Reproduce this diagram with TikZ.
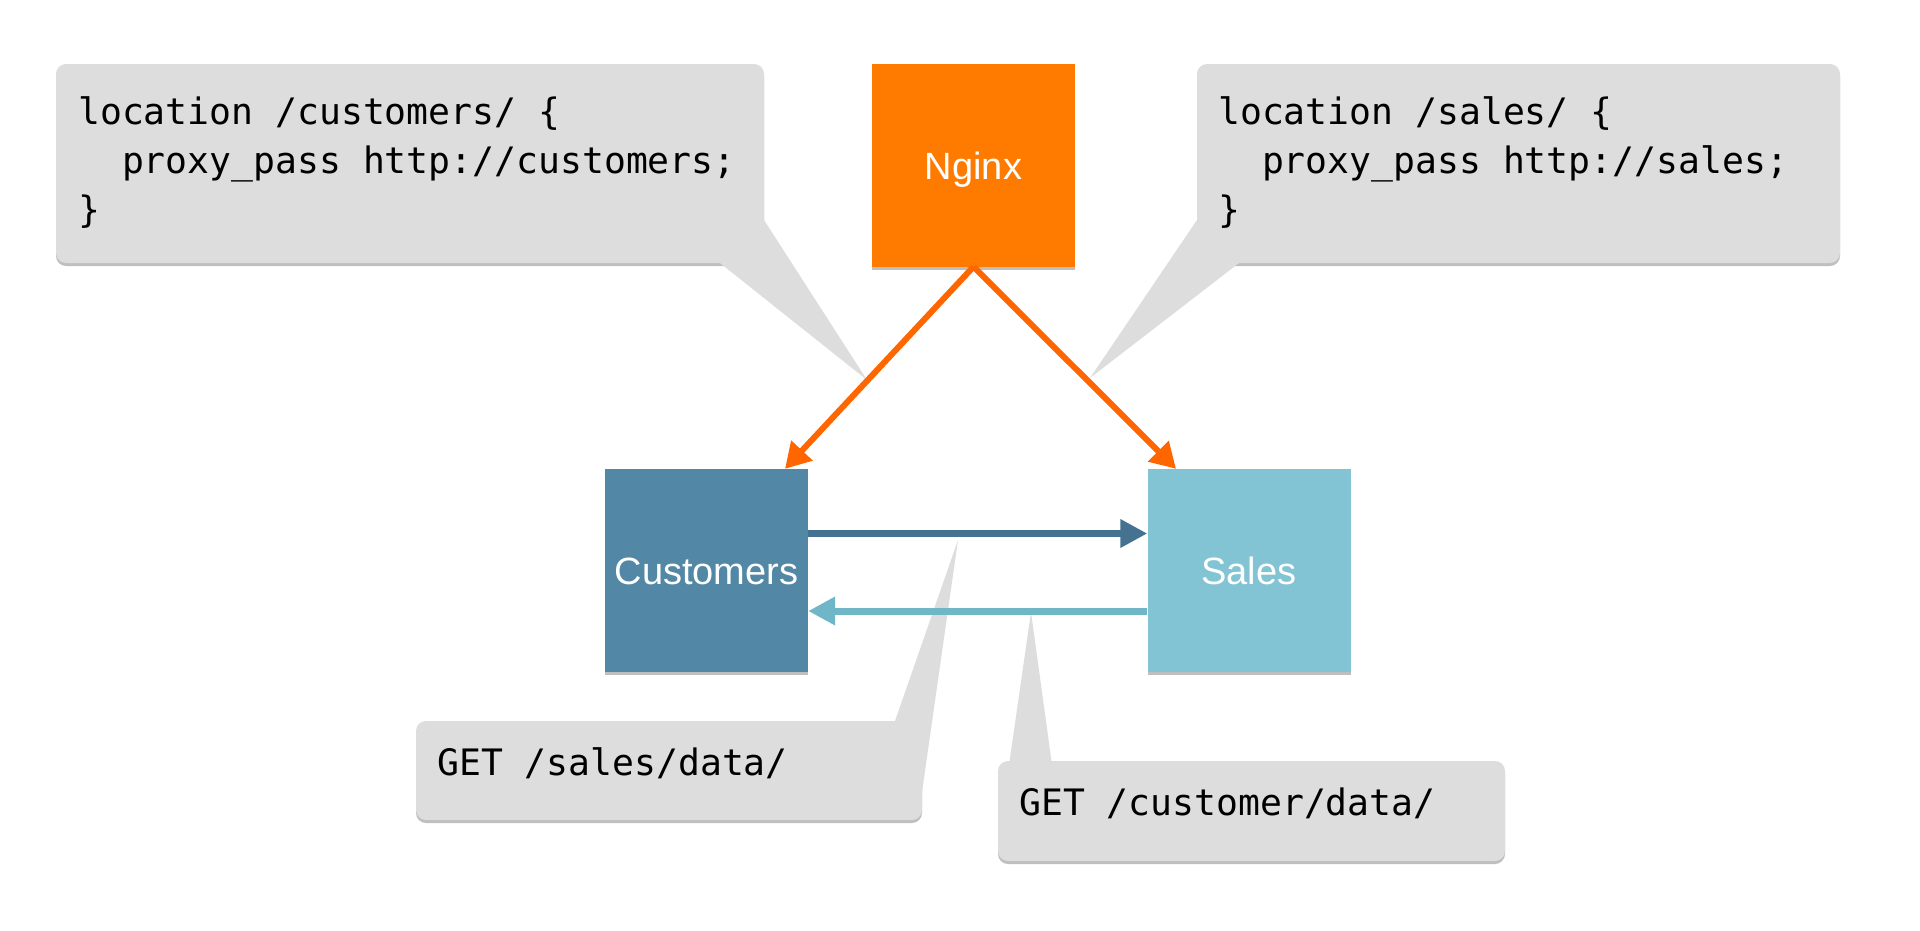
\documentclass[tikz,border=0pt]{standalone}
\usepackage{fontspec}
\setmainfont{Liberation Sans}
\newfontfamily\codefont{DejaVu Sans Mono}
\usetikzlibrary{arrows.meta,shadows}
\pgfdeclarelayer{bg}
\pgfsetlayers{bg,main}
\definecolor{calloutgray}{RGB}{221,221,221}
\definecolor{nginxorange}{RGB}{255,123,0}
\definecolor{arroworange}{RGB}{255,102,0}
\definecolor{custblue}{RGB}{83,135,166}
\definecolor{salesblue}{RGB}{130,196,211}
\definecolor{darkarrow}{RGB}{69,114,145}
\definecolor{lightarrow}{RGB}{111,182,198}
\begin{document}
\begin{tikzpicture}[x=1pt,y=-1pt,
  svcbox/.style={rectangle, minimum width=203pt, minimum height=203pt, inner sep=0pt,
    text=white, font=\fontsize{38}{38}\selectfont, text height=28pt, text depth=0pt,
    drop shadow={shadow xshift=0pt, shadow yshift=-3pt, opacity=0.25, fill=black}},
  callout/.style={rectangle, rounded corners=10pt, fill=calloutgray, inner sep=0pt,
    drop shadow={shadow xshift=0pt, shadow yshift=-3pt, opacity=0.25, fill=black}},
  tailfill/.style={fill=calloutgray},
  tailshadow/.style={fill=black, opacity=0.25, yshift=-3pt},
  code/.style={anchor=base west, inner sep=0pt, font=\codefont\fontsize{36.4}{36.4}\selectfont},
  orangearrow/.style={draw=arroworange, line width=6pt, -{Triangle[length=25pt,width=28pt]}},
  darkflow/.style={draw=darkarrow, line width=7pt, -{Triangle[length=27pt,width=27pt]}},
  lightflow/.style={draw=lightarrow, line width=7pt, -{Triangle[length=27pt,width=27pt]}}
]
\useasboundingbox[fill=white] (0,0) rectangle (1920,930);

% callout boxes
\node[callout, minimum width=708pt, minimum height=199pt] (cl) at (410,163.5) {};
\node[callout, minimum width=643pt, minimum height=199pt] (cr) at (1518.5,163.5) {};
\node[callout, minimum width=506pt, minimum height=99pt] (cb1) at (669,770.5) {};
\node[callout, minimum width=507pt, minimum height=100pt] (cb2) at (1251.5,811) {};

% tails: shadows on background layer
\begin{pgfonlayer}{bg}
  \fill[tailshadow] (720,263) -- (867,380) -- (764,220) -- cycle;
  \fill[tailshadow] (1197,220) -- (1090,378) -- (1239,263) -- cycle;
  \fill[tailshadow] (895,721) -- (958,540) -- (922,792) -- cycle;
  \fill[tailshadow] (1009,765) -- (1031,612) -- (1052,765) -- cycle;
\end{pgfonlayer}
\fill[tailfill] (720,263) -- (867,380) -- (764,220) -- cycle;
\fill[tailfill] (1197,220) -- (1090,378) -- (1239,263) -- cycle;
\fill[tailfill] (895,721) -- (958,540) -- (922,792) -- cycle;
\fill[tailfill] (1009,765) -- (1031,612) -- (1052,765) -- cycle;

% services
\node[svcbox, fill=nginxorange] (nginx) at (973.5,165) {Nginx};
\node[svcbox, fill=custblue] (cust) at (706.5,570.5) {Customers};
\node[svcbox, fill=salesblue] (sales) at (1249,570.5) {Sales};

% connectors
\draw[orangearrow] (nginx.south) -- ([xshift=78.5pt]cust.north);
\draw[orangearrow] (nginx.south) -- ([xshift=-73pt]sales.north);
\draw[darkflow] ([yshift=37pt]cust.east) -- ([yshift=37pt]sales.west);
\draw[lightflow] ([yshift=-40.5pt]sales.west) -- ([yshift=-40.5pt]cust.east);

% code texts
\node[code] (cl1) at (78,124) {location /customers/ \{};
\node[code] (cl2) at (78,173) {\phantom{xx}proxy\_pass http://customers;};
\node[code] (cl3) at (78,222) {\}};
\node[code] (cr1) at (1218,124) {location /sales/ \{};
\node[code] (cr2) at (1218,173) {\phantom{xx}proxy\_pass http://sales;};
\node[code] (cr3) at (1218,222) {\}};
\node[code] (cb1t) at (437,775) {GET /sales/data/};
\node[code] (cb2t) at (1019,815) {GET /customer/data/};
\end{tikzpicture}
\end{document}
